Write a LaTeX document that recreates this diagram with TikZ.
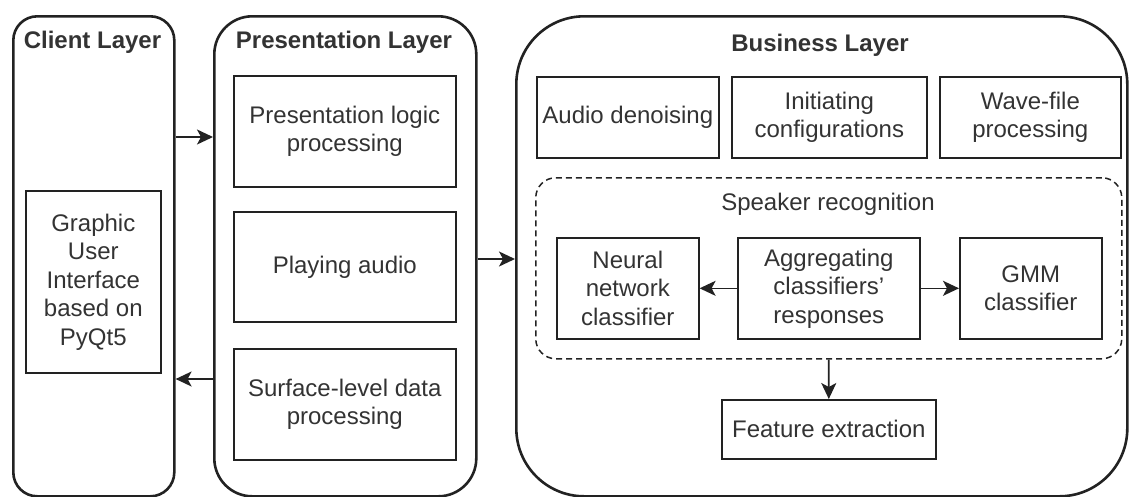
\documentclass[tikz,border=0pt]{standalone}
\usepackage{fontspec}
\setmainfont{Liberation Sans}
\usetikzlibrary{arrows.meta}
\definecolor{ink}{HTML}{222222}
\definecolor{txt}{HTML}{333333}
\tikzset{
  layer/.style={draw=ink, line width=2.6pt, anchor=north west, inner sep=0pt},
  box/.style={draw=ink, line width=1.6pt, anchor=north west, align=center,
    text=txt, font=\fontsize{24}{28.5}\selectfont, inner sep=2pt},
  title/.style={text=txt, font=\fontsize{24}{28.5}\selectfont\bfseries},
  plain/.style={text=txt, font=\fontsize{24}{28.5}\selectfont},
  group/.style={draw=ink, line width=1.5pt, dash pattern=on 6pt off 4pt,
    rounded corners=20pt, anchor=north west, inner sep=0pt},
  link/.style={draw=ink, line width=1.6pt,
    -{Stealth[length=16pt, width=15pt, inset=4pt]}}
}
\begin{document}
\begin{tikzpicture}[x=1pt, y=-1pt]
  \useasboundingbox (0,0) rectangle (1131,496);

  % the three layers
  \node[layer, rounded corners=24pt, minimum width=161pt, minimum height=480pt]
    (client) at (12,15) {};
  \node[layer, rounded corners=38pt, minimum width=262pt, minimum height=480pt]
    (pres) at (213,15) {};
  \node[layer, rounded corners=68pt, minimum width=611pt, minimum height=480pt]
    (bus) at (515,15) {};
  \node[title] at (92.5,42) {Client Layer};
  \node[title] at (344,42) {Presentation Layer};
  \node[title] at (820,45) {Business Layer};

  % client layer
  \node[box, minimum width=135pt, minimum height=182pt] (gui) at (25,190)
    {Graphic\\User\\Interface\\based on\\PyQt5};

  % presentation layer
  \node[box, minimum width=222pt, minimum height=111pt] (plogic) at (233,75)
    {Presentation logic\\processing};
  \node[box, minimum width=222pt, minimum height=110pt] (play) at (233,211)
    {Playing audio};
  \node[box, minimum width=222pt, minimum height=111pt] (surf) at (233,348)
    {Surface-level data\\processing};

  % business layer
  \node[box, minimum width=182pt, minimum height=81pt] (denoise) at (536,76)
    {Audio denoising};
  \node[box, minimum width=195pt, minimum height=81pt] (config) at (731,76)
    {Initiating\\configurations};
  \node[box, minimum width=181pt, minimum height=81pt] (wave) at (939,76)
    {Wave-file\\processing};

  \node[group, minimum width=586pt, minimum height=181pt] (spk) at (535,177) {};
  \node[plain] at (828,204) {Speaker recognition};
  \node[box, minimum width=142pt, minimum height=101pt] (nn) at (556,237)
    {Neural\\network\\classifier};
  \node[box, minimum width=182pt, minimum height=101pt] (agg) at (737,237)
    {Aggregating\\classifiers'\\responses};
  \node[box, minimum width=142pt, minimum height=101pt] (gmm) at (959,237)
    {GMM\\classifier};

  \node[box, minimum width=214pt, minimum height=59pt] (feat) at (721,399)
    {Feature extraction};

  % connectors
  \draw[link] (client.east |- 0,137) -- (pres.west |- 0,137);
  \draw[link] (pres.west |- 0,379) -- (client.east |- 0,379);
  \draw[link] (pres.east |- 0,259) -- (bus.west |- 0,259);
  \draw[link] (agg.west) -- (nn.east);
  \draw[link] (agg.east) -- (gmm.west);
  \draw[link] (spk.south) -- (feat.north);
\end{tikzpicture}
\end{document}
